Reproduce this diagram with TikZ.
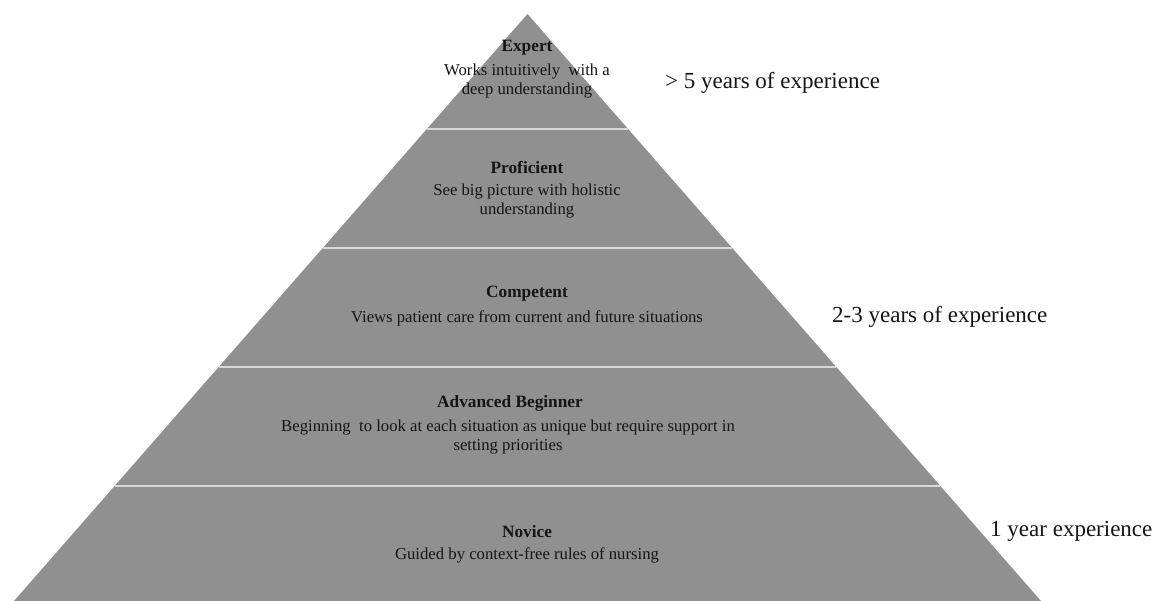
\documentclass[tikz,border=0pt]{standalone}
\usepackage{fontspec}
\setmainfont{Liberation Serif}
\definecolor{pyrgray}{HTML}{909090}
\definecolor{sepgray}{HTML}{D8D8D8}
\definecolor{txt}{HTML}{151515}
\begin{document}
\begin{tikzpicture}[x=1pt,y=-1pt,
  title/.style={font=\fontsize{17.3}{19}\selectfont\bfseries, text=txt, inner sep=0pt},
  desc/.style={font=\fontsize{16.7}{19}\selectfont, text=txt, align=center, inner sep=0pt},
  yrs/.style={font=\fontsize{23}{26}\selectfont, text=txt, anchor=west, inner sep=0pt},
  sep/.style={draw=sepgray, line width=2pt}]
\useasboundingbox (0,0) rectangle (1154,601);
\coordinate (apex) at (527.5,14);
\coordinate (bl) at (14,601);
\coordinate (br) at (1041,601);
\fill[pyrgray] (apex) -- (br) -- (bl) -- cycle;
% separators: x half-width = 0.8746*(y-14)
\foreach \y in {129,248,367,486}{
  \draw[sep] ({527.5-0.8746*(\y-14)},\y) -- ({527.5+0.8746*(\y-14)},\y);
}
\node[title] (t1) at (527,48) {Expert};
\node[desc] (d1) at (527,81.5) {Works intuitively\ \ with a\\deep understanding};
\node[title] (t2) at (527,167) {Proficient};
\node[desc] (d2) at (527,201) {See big picture with holistic\\understanding};
\node[title] (t3) at (527,294) {Competent};
\node[desc] (d3) at (527,318) {Views patient care from current and future situations};
\node[title] (t4) at (510,403) {Advanced Beginner};
\node[desc] (d4) at (508,437.5) {Beginning\ \ to look at each situation as unique but require support in\\setting priorities};
\node[title] (t5) at (527,532) {Novice};
\node[desc] (d5) at (527,555) {Guided by context-free rules of nursing};
\node[yrs] (y1) at (665,83) {> 5 years of experience};
\node[yrs] (y2) at (832,317) {2-3 years of experience};
\node[yrs] (y3) at (990,531) {1 year experience};
\end{tikzpicture}
\end{document}
